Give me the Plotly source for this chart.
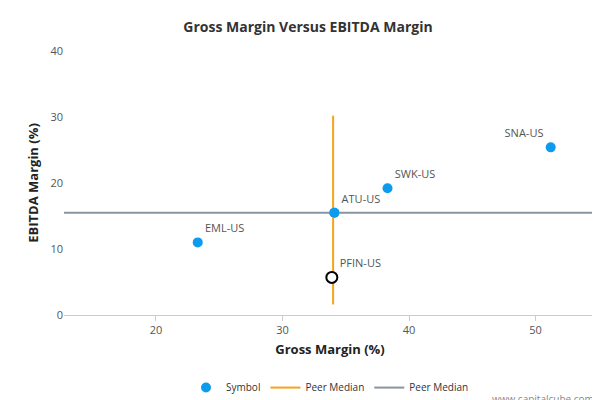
import plotly.graph_objects as go

symbols = ["EML-US", "ATU-US", "SWK-US", "SNA-US"]
gross = [23.3, 34.1, 38.3, 51.2]
ebitda = [11.0, 15.5, 19.2, 25.4]
focus_name = ["PFIN-US"]
focus_gross = [33.9]
focus_ebitda = [5.7]
median_gross = 34.0
median_ebitda = 15.5
vline_y = [1.6, 30.2]
x_range = [12.73, 54.78]

fig = go.Figure()
fig.add_trace(go.Scatter(x=gross, y=ebitda, mode="markers+text", text=symbols,
    textposition=["top right", "top right", "top right", "top left"],
    textfont=dict(size=11, color="#555"),
    marker=dict(size=10, color="#0d9bf0"), name="Symbol"))
fig.add_trace(go.Scatter(x=[median_gross]*2, y=vline_y, mode="lines",
    line=dict(color="#f5a31a", width=2), name="Peer Median"))
fig.add_trace(go.Scatter(x=x_range, y=[median_ebitda]*2, mode="lines",
    line=dict(color="#8a93a0", width=2), name="Peer Median"))
fig.add_trace(go.Scatter(x=focus_gross, y=focus_ebitda, mode="markers+text", text=focus_name,
    textposition="top right", textfont=dict(size=11, color="#555"),
    marker=dict(size=11, color="white", line=dict(color="black", width=2)),
    showlegend=False))
fig.add_trace(go.Scatter(x=[gross[1]], y=[ebitda[1]], mode="markers",
    marker=dict(size=10, color="#0d9bf0"), showlegend=False))

fig.update_layout(
    width=600, height=400, plot_bgcolor="white", paper_bgcolor="white",
    font=dict(family="Open Sans, DejaVu Sans", size=11, color="#555"),
    margin=dict(l=56, r=12, t=43, b=93, autoexpand=False),
    title=dict(text="<b>Gross Margin Versus EBITDA Margin</b>", x=0.5, y=0.965,
               font=dict(size=14, color="#333")),
    xaxis=dict(title=dict(text="<b>Gross Margin (%)</b>", font=dict(size=13, color="#222"), standoff=8),
               range=x_range, tickvals=[20, 30, 40, 50], showgrid=False, zeroline=False,
               showline=True, linecolor="#ccc", ticks="outside", tickcolor="#ccc", ticklen=5,
               automargin=False),
    yaxis=dict(title=dict(text="<b>EBITDA Margin (%)</b>", font=dict(size=13, color="#222"), standoff=8),
               range=[0, 40], tickvals=[0, 10, 20, 30, 40], showgrid=False, zeroline=False,
               automargin=False),
    legend=dict(orientation="h", x=0.5, xanchor="center", y=-0.22, yanchor="top",
                font=dict(size=10, color="#333")),
    annotations=[dict(text="www.capitalcube.com", xref="paper", yref="paper", x=1, y=-0.285,
                      xanchor="right", yanchor="top", showarrow=False,
                      font=dict(size=10, color="#888"))],
)
fig.write_html("out.html")
